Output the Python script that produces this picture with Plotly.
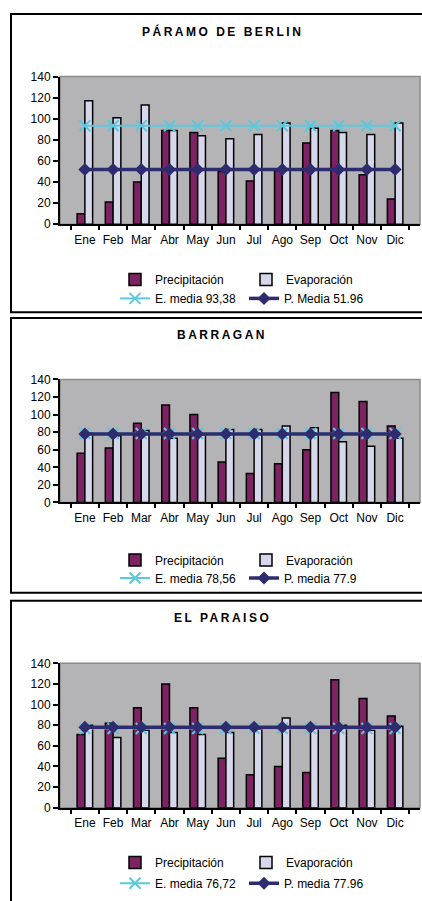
import plotly.graph_objects as go

months = ['Ene', 'Feb', 'Mar', 'Abr', 'May', 'Jun', 'Jul', 'Ago', 'Sep', 'Oct', 'Nov', 'Dic']

# Páramo de Berlin
berlin_precip = [10, 21, 40, 89, 87, 50, 41, 51, 77, 89, 47, 24]
berlin_evap = [117, 101, 113, 89, 84, 81, 85, 96, 91, 87, 85, 96]
berlin_e_media = 93.38
berlin_p_media = 51.96

# Barragan
barragan_precip = [56, 62, 90, 111, 100, 46, 33, 44, 60, 125, 115, 87]
barragan_evap = [79, 76, 82, 73, 77, 83, 83, 87, 85, 69, 64, 73]
barragan_e_media = 78.56
barragan_p_media = 77.9

# El Paraiso
paraiso_precip = [71, 82, 97, 120, 97, 48, 32, 40, 34, 124, 106, 89]
paraiso_evap = [80, 68, 75, 73, 71, 73, 76, 87, 78, 80, 75, 79]
paraiso_e_media = 76.72
paraiso_p_media = 77.96

titles = ['PÁRAMO DE BERLIN', 'BARRAGAN', 'EL PARAISO']
e_labels = ['E. media 93,38', 'E. media 78,56', 'E. media 76,72']
p_labels = ['P. Media 51.96', 'P. media 77.9', 'P. media 77.96']

W, H = 422, 901
FONT = 'Liberation Sans, Arial, sans-serif'
PRECIP_C = '#7D2263'
EVAP_C = '#D7D7EC'
BG = '#B4B4B6'
E_C = '#5CC8DE'
P_C = '#2E2C6E'

panels = [
    dict(precip=berlin_precip, evap=berlin_evap, em=berlin_e_media, pm=berlin_p_media,
         top=70.7, bottom=220.7, title_y=25, box=(7, 310), leg=(276.7, 296)),
    dict(precip=barragan_precip, evap=barragan_evap, em=barragan_e_media, pm=barragan_p_media,
         top=378.3, bottom=503.3, title_y=333, box=(316, 595), leg=(561.7, 580)),
    dict(precip=paraiso_precip, evap=paraiso_evap, em=paraiso_e_media, pm=paraiso_p_media,
         top=666.7, bottom=813.3, title_y=621, box=(603, 920), leg=(869, 890)),
]

def py(px):
    return 1 - px / H

def px_x(px):
    return px / W

fig = go.Figure()
shapes = []
annotations = []
layout = {}

for i, p in enumerate(panels):
    n = '' if i == 0 else str(i + 1)
    xa, ya = 'x' + n, 'y' + n
    l1 = 'legend' if i == 0 else 'legend' + str(2 * i + 1)
    l2 = 'legend' + str(2 * i + 2)
    fig.add_trace(go.Bar(x=months, y=p['precip'], name='Precipitación', xaxis=xa, yaxis=ya,
                         marker=dict(color=PRECIP_C, line=dict(color='black', width=1.5)),
                         legend=l1))
    fig.add_trace(go.Bar(x=months, y=p['evap'], name='Evaporación', xaxis=xa, yaxis=ya,
                         marker=dict(color=EVAP_C, line=dict(color='black', width=1.5)),
                         legend=l1))
    fig.add_trace(go.Scatter(x=months, y=[p['em']] * len(months), name=e_labels[i],
                             xaxis=xa, yaxis=ya, mode='lines+markers',
                             line=dict(color=E_C, width=2),
                             marker=dict(symbol='x-thin', size=11, line=dict(color=E_C, width=2)),
                             legend=l2))
    fig.add_trace(go.Scatter(x=months, y=[p['pm']] * len(months), name=p_labels[i],
                             xaxis=xa, yaxis=ya, mode='lines+markers',
                             line=dict(color=P_C, width=3.5),
                             marker=dict(symbol='diamond', size=10, color=P_C),
                             legend=l2))
    dom_y = [py(p['bottom']), py(p['top'])]
    layout['xaxis' + n] = dict(domain=[px_x(60), px_x(420)], anchor=ya, tickangle=0,
                               tickson='boundaries', ticks='outside', ticklen=4, tickwidth=1.5,
                               tickcolor='black', showline=True, linecolor='black', linewidth=2,
                               showgrid=False, tickfont=dict(family=FONT, size=12, color='black'),
                               ticklabelstandoff=3, fixedrange=True)
    layout['yaxis' + n] = dict(domain=dom_y, anchor=xa, range=[0, 140],
                               tickvals=[0, 20, 40, 60, 80, 100, 120, 140],
                               ticks='outside', ticklen=5, tickwidth=1.5, tickcolor='black',
                               showline=True, linecolor='black', linewidth=2, showgrid=False,
                               zeroline=False, tickfont=dict(family=FONT, size=12, color='black'),
                               fixedrange=True)
    shapes.append(dict(type='rect', xref=xa + ' domain', yref=ya + ' domain', x0=0, x1=1, y0=0, y1=1,
                       line=dict(color='#8A8A8A', width=1.5), fillcolor=BG, layer='below'))
    shapes.append(dict(type='rect', xref='paper', yref='paper', x0=px_x(11), x1=1.05,
                       y0=py(p['box'][1]), y1=py(p['box'][0]),
                       line=dict(color='black', width=2), fillcolor='rgba(0,0,0,0)'))
    annotations.append(dict(xref='paper', yref='paper', x=px_x(222), y=py(p['title_y']),
                            text='<b><span style="letter-spacing:2.5px">%s</span></b>' % titles[i],
                            showarrow=False, xanchor='center', yanchor='middle',
                            font=dict(family=FONT, size=12, color='black')))
    for k, (lname, ly) in enumerate(((l1, p['leg'][0]), (l2, p['leg'][1]))):
        layout[lname] = dict(orientation='h', x=px_x(115), xanchor='left', y=py(ly),
                             yanchor='middle', entrywidth=86 if k == 0 else 84,
                             entrywidthmode='pixels',
                             font=dict(family=FONT, size=12, color='black'),
                             bgcolor='rgba(0,0,0,0)', borderwidth=0, traceorder='normal',
                             itemclick=False, itemdoubleclick=False)

fig.update_layout(width=W, height=H, margin=dict(l=0, r=0, t=0, b=0),
                  paper_bgcolor='white', plot_bgcolor='rgba(0,0,0,0)',
                  barmode='group', bargap=0.45, bargroupgap=0,
                  shapes=shapes, annotations=annotations, showlegend=True,
                  font=dict(family=FONT, size=12, color='black'), **layout)

# remove the browser's default page margin so the 422x901 figure fills the window exactly
post = (
    "var d=document.documentElement,b=document.body;"
    "d.style.margin='0';d.style.padding='0';d.style.overflow='hidden';"
    "b.style.margin='0';b.style.padding='0';b.style.overflow='hidden';"
)

fig.write_html('out.html', config={'displayModeBar': False}, post_script=post)
